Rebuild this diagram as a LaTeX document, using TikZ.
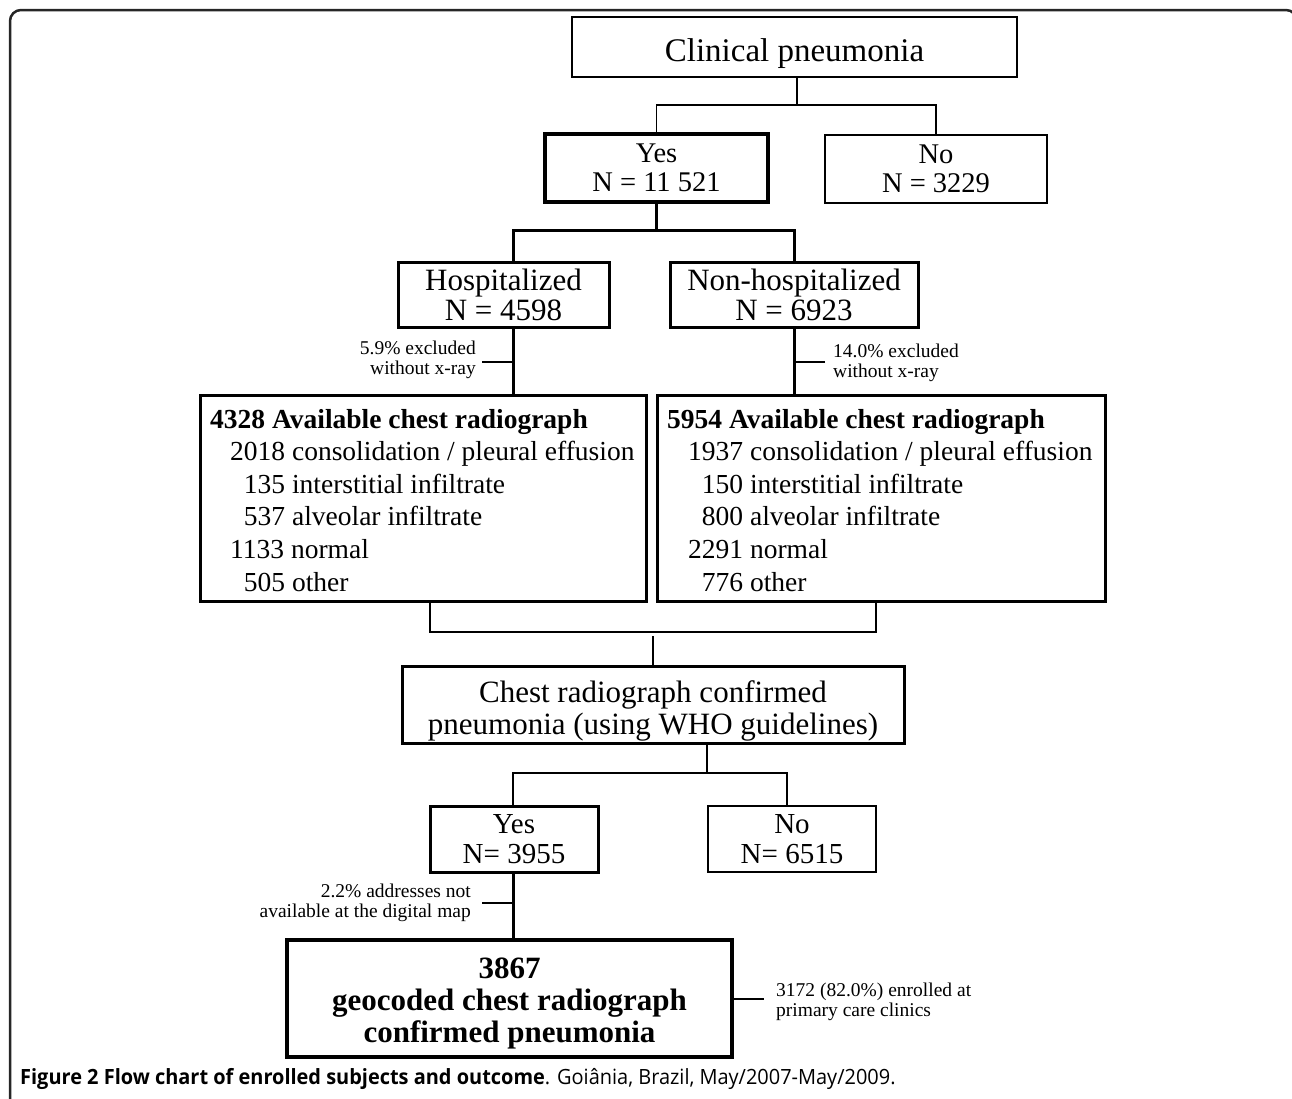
\documentclass[tikz,border=0pt]{standalone}
\usepackage{fontspec}
\setmainfont{Liberation Serif}
\newfontfamily\capfont{Open Sans}
\begin{document}
\begin{tikzpicture}[x=1pt,y=-1pt,
  box/.style={draw, inner sep=0pt, align=center},
  thinbox/.style={box, line width=1.5pt},
  thickbox/.style={box, line width=3pt},
  heavybox/.style={box, line width=4pt},
  txt/.style={inner sep=0pt, align=center},
  thinline/.style={line width=1.5pt},
  medline/.style={line width=2.2pt},
  thickline/.style={line width=3pt},
  note/.style={inner sep=0pt, font=\fontsize{19.5}{20}\selectfont},
  frame/.style={line width=2.5pt, draw=black!85, rounded corners=11pt}]
\useasboundingbox (0,0) rectangle (1292,1098);
\draw[frame] (10,1120) -- (10,10) -- (1297,10) -- (1297,1120);

% boxes
\node[thinbox, minimum width=445pt, minimum height=60pt] (clin) at (794.5,47) {};
\node[txt, font=\fontsize{33}{36}\selectfont] (clinT) at (794.5,54) {Clinical pneumonia};
\node[heavybox, minimum width=223pt, minimum height=68pt, font=\fontsize{28.5}{29}\selectfont] (yes1) at (656.5,168) {Yes\\N = 11 521};
\node[thinbox, minimum width=222pt, minimum height=68pt, font=\fontsize{28.5}{29}\selectfont] (no1) at (936,169) {No\\N = 3229};
\node[thickbox, minimum width=211pt, minimum height=65pt, font=\fontsize{31}{30}\selectfont] (hosp) at (503.5,294.5) {Hospitalized\\N = 4598};
\node[thickbox, minimum width=248pt, minimum height=65pt, font=\fontsize{31}{30}\selectfont] (nonhosp) at (794,294.5) {Non-hospitalized\\N = 6923};

\node[thickbox, minimum width=446pt, minimum height=206pt] (av1) at (423,498) {};
\node[anchor=base west, inner sep=0pt, font=\fontsize{27.5}{32.6}\selectfont] (av1t) at (210,428) {\parbox[t]{430pt}{\raggedright
{\bfseries 4328 Available chest radiograph}\\
\hspace*{20pt}2018 consolidation / pleural effusion\\
\hspace*{20pt}\phantom{0}135 interstitial infiltrate\\
\hspace*{20pt}\phantom{0}537 alveolar infiltrate\\
\hspace*{20pt}1133 normal\\
\hspace*{20pt}\phantom{0}505 other}};

\node[thickbox, minimum width=448pt, minimum height=206pt] (av2) at (881,498) {};
\node[anchor=base west, inner sep=0pt, font=\fontsize{27.5}{32.6}\selectfont] (av2t) at (667,428) {\parbox[t]{430pt}{\raggedright
{\bfseries 5954 Available chest radiograph}\\
\hspace*{21pt}1937 consolidation / pleural effusion\\
\hspace*{21pt}\phantom{0}150 interstitial infiltrate\\
\hspace*{21pt}\phantom{0}800 alveolar infiltrate\\
\hspace*{21pt}2291 normal\\
\hspace*{21pt}\phantom{0}776 other}};

\node[thickbox, minimum width=502pt, minimum height=77pt] (chest) at (653,704.5) {};
\node[txt, font=\fontsize{31}{32}\selectfont] (chestT) at (653,710.5) {Chest radiograph confirmed\\pneumonia (using WHO guidelines)};
\node[thickbox, minimum width=168pt, minimum height=66pt, font=\fontsize{29}{30}\selectfont] (yes2) at (514,839) {Yes\\N= 3955};
\node[thinbox, minimum width=168pt, minimum height=66pt, font=\fontsize{29}{30}\selectfont] (no2) at (792,839) {No\\N= 6515};
\node[heavybox, minimum width=445pt, minimum height=117pt] (final) at (509.5,998.5) {};
\node[txt, font=\bfseries\fontsize{31}{32}\selectfont] (finalT) at (509.5,1003.5) {3867\\geocoded chest radiograph\\confirmed pneumonia};

% side notes
\node[note, anchor=east, align=right] (lab1) at (476,360) {5.9\% excluded\\without x-ray};
\node[note, anchor=west, align=left] (lab2) at (833,363) {14.0\% excluded\\without x-ray};
\node[note, anchor=east, align=right] (lab3) at (471,903) {2.2\% addresses not\\available at the digital map};
\node[note, anchor=west, align=left] (lab4) at (776,1002) {3172 (82.0\%) enrolled at\\primary care clinics};

% coordinates
\coordinate (colL) at (513,0);
\coordinate (j1) at (797,105);
\coordinate (j2) at (656.5,230);
\coordinate (cA) at (430,632);
\coordinate (cB) at (876,632);
\coordinate (m) at (653,636);
\coordinate (c2) at (707,773);
\coordinate (t1) at (482,362);
\coordinate (t2) at (825,362);
\coordinate (t3) at (482,903);
\coordinate (t4) at (764,999);

% connectors
\draw[thinline] (clin.south -| j1) -- (j1);
\draw[thinline] (yes1.north) |- (j1) -| (no1.north);
\draw[thickline] (yes1.south) -- (j2);
\draw[thickline] (hosp.north -| colL) |- (j2) -| (nonhosp.north);
\draw[thickline] (hosp.south -| colL) -- (av1.north -| colL);
\draw[thickline] (nonhosp.south) -- (av2.north -| nonhosp.south);
\draw[thinline] (t1) -- (t1 -| colL);
\draw[thinline] (t2) -- (t2 -| nonhosp.south);
\draw[medline] (av1.south -| cA) -- (cA) -- (cB) -- (av2.south -| cB);
\draw[medline] (m) -- (chest.north);
\draw[medline] (chest.south -| c2) -- (c2);
\draw[medline] (yes2.north -| colL) |- (c2) -| (no2.north -| 787,0);
\draw[thickline] (yes2.south -| colL) -- (final.north -| colL);
\draw[thinline] (t3) -- (t3 -| colL);
\draw[thinline] (final.east |- t4) -- (t4);

% caption
\node[anchor=base west, inner sep=0pt, font=\capfont\fontsize{21}{22}\selectfont] (cap) at (20,1084) {\scalebox{0.95}[1]{{\bfseries Figure 2 Flow chart of enrolled subjects and outcome}. Goiânia, Brazil, May/2007-May/2009.}};
\end{tikzpicture}
\end{document}
